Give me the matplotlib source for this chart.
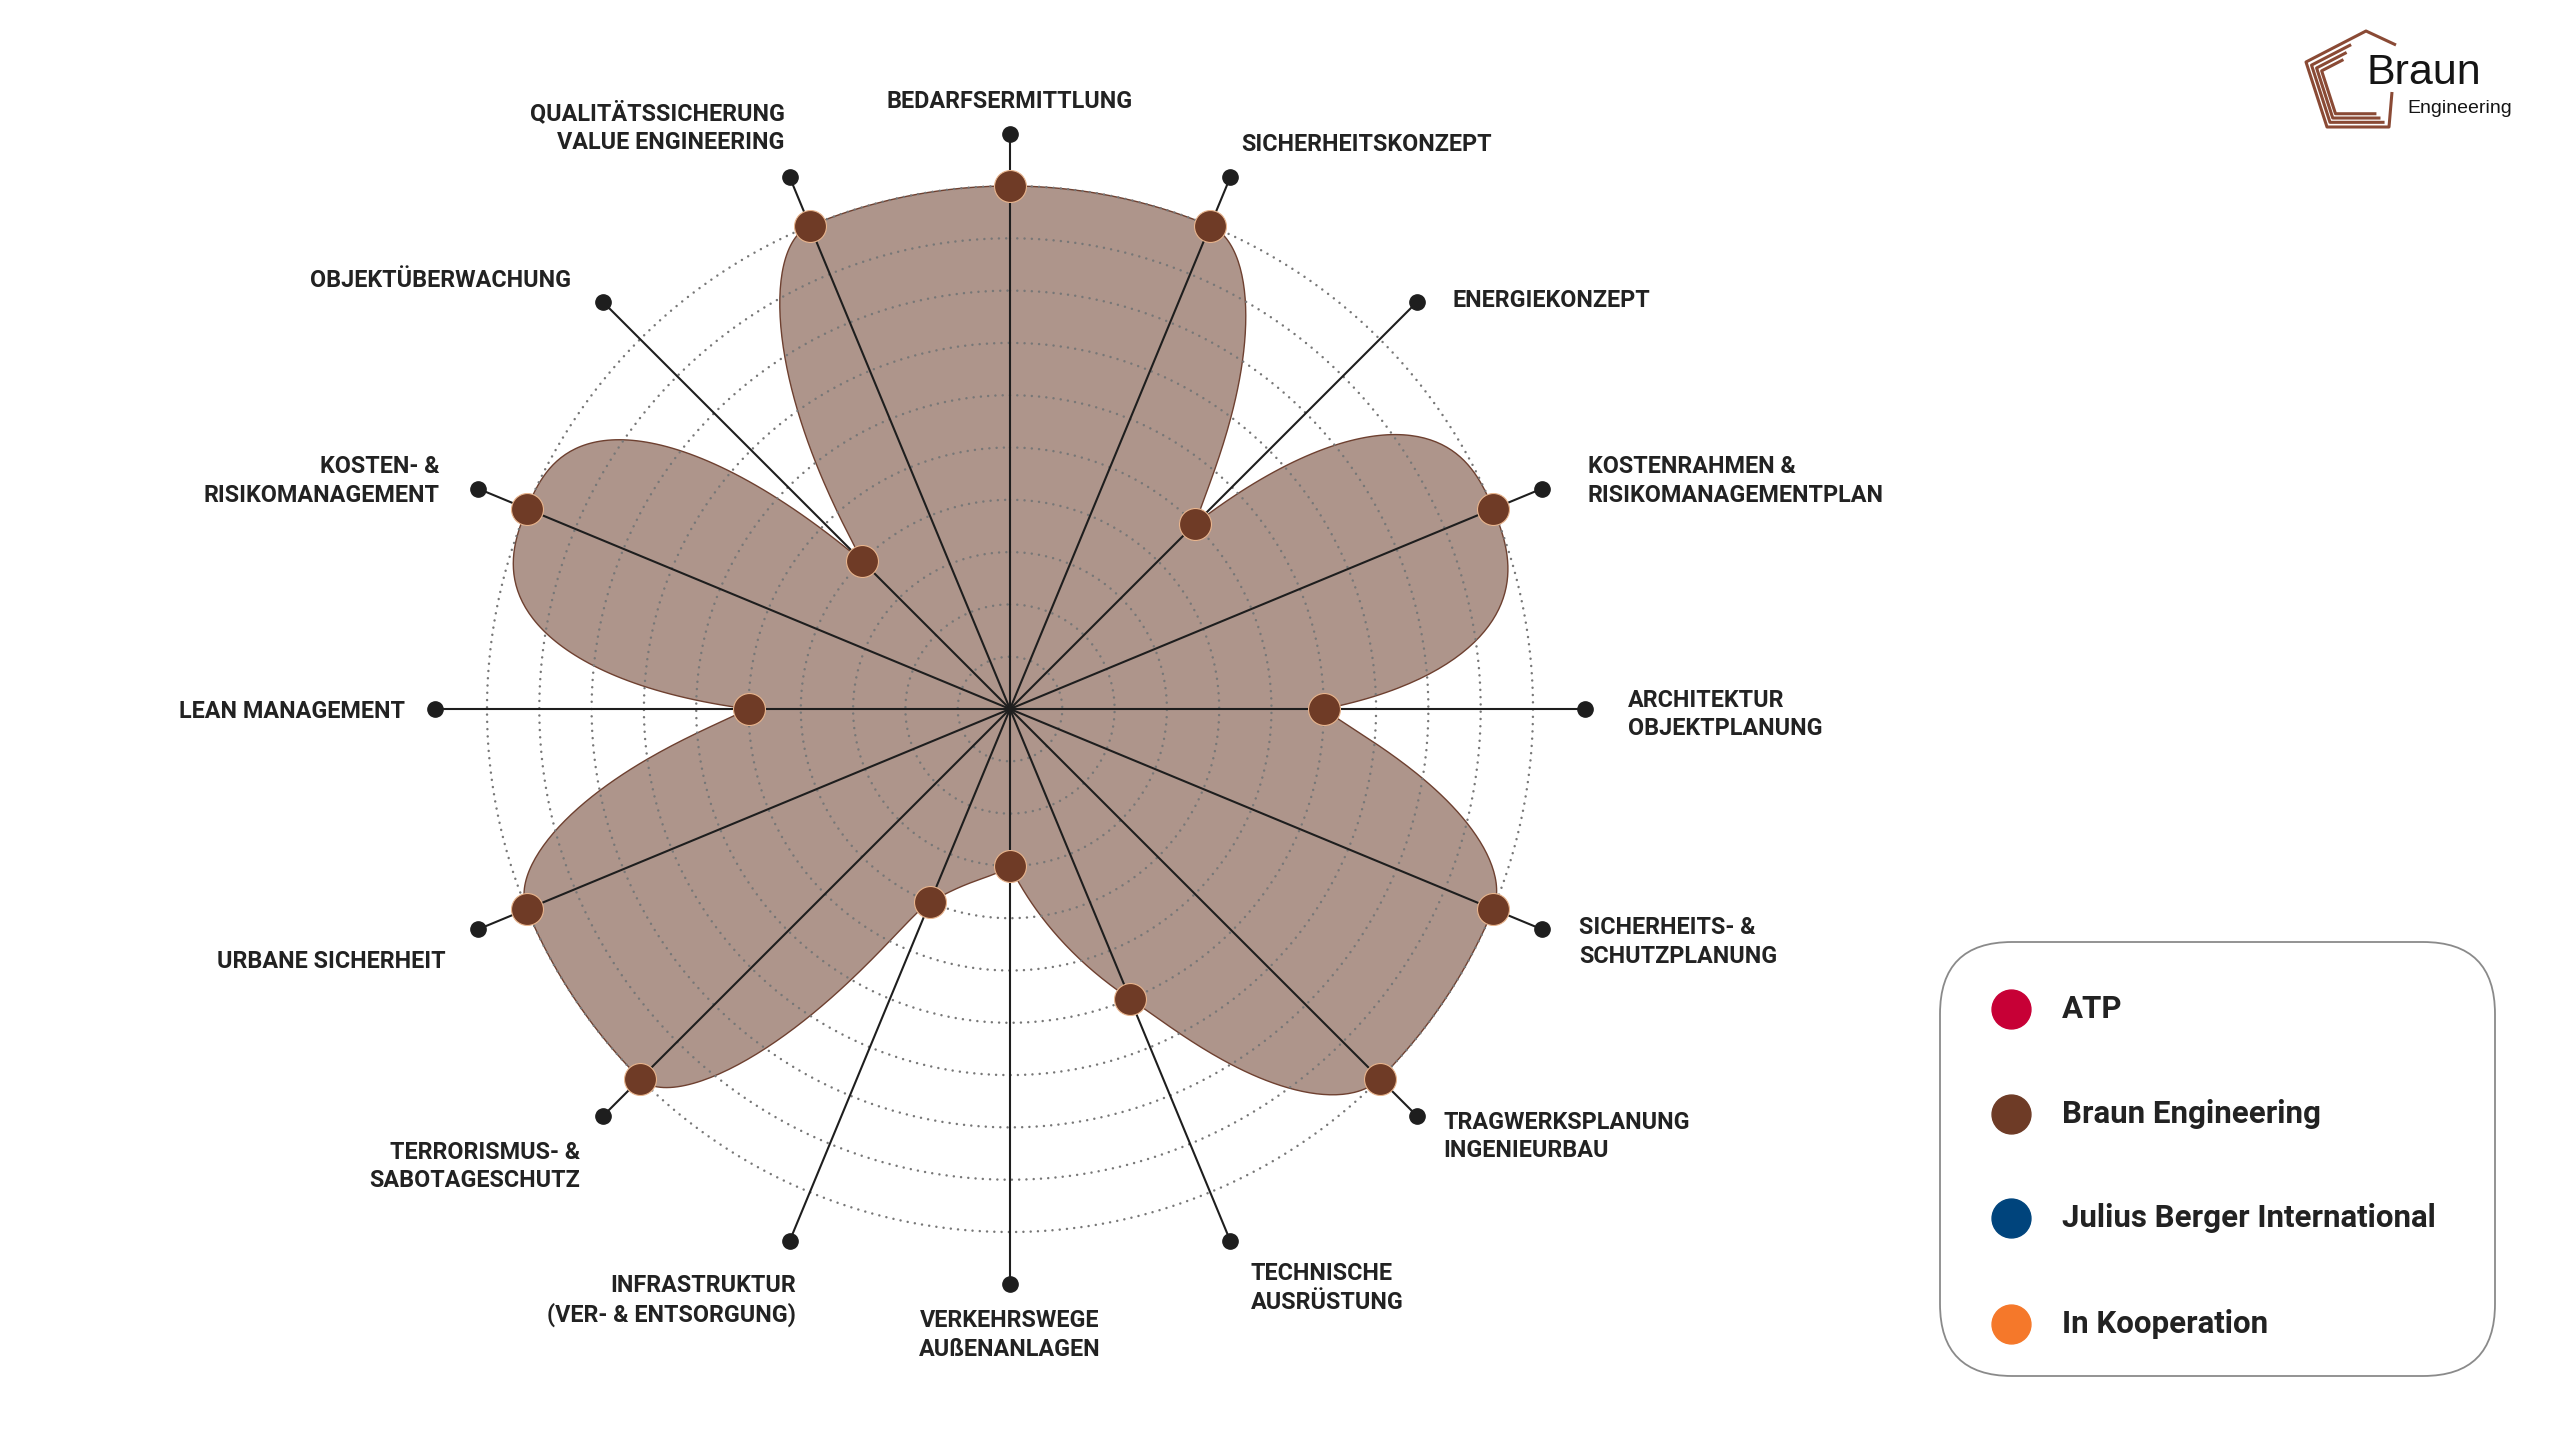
import numpy as np
import matplotlib.pyplot as plt
from matplotlib.patches import FancyBboxPatch

# Radar data (scores 0-10), clockwise from top
categories = [
    'BEDARFSERMITTLUNG', 'SICHERHEITSKONZEPT', 'ENERGIEKONZEPT',
    'KOSTENRAHMEN &\nRISIKOMANAGEMENTPLAN', 'ARCHITEKTUR\nOBJEKTPLANUNG',
    'SICHERHEITS- &\nSCHUTZPLANUNG', 'TRAGWERKSPLANUNG\nINGENIEURBAU',
    'TECHNISCHE\nAUSRÜSTUNG', 'VERKEHRSWEGE\nAUßENANLAGEN',
    'INFRASTRUKTUR\n(VER- & ENTSORGUNG)', 'TERRORISMUS- &\nSABOTAGESCHUTZ',
    'URBANE SICHERHEIT', 'LEAN MANAGEMENT', 'KOSTEN- &\nRISIKOMANAGEMENT',
    'OBJEKTÜBERWACHUNG', 'QUALITÄTSSICHERUNG\nVALUE ENGINEERING',
]
values = [10, 10, 5, 10, 6, 10, 10, 6, 3, 4, 10, 10, 5, 10, 4, 10]
ring_levels = list(range(1, 11))
axis_max = 11

legend_names = ['ATP', 'Braun Engineering', 'Julius Berger International', 'In Kooperation']
legend_colors = ['#c70036', '#6e3b26', '#00447c', '#f5782a']

# label placement: (ha, dx, dy) in screen px relative to the spoke end dot
label_layout = [
    ('center', 0, -32), ('left', 11.5, -32.6), ('left', 36, -2), ('left', 46, -7.7),
    ('left', 42.5, 5.5), ('left', 37.4, 12.8), ('left', 26.3, 20.7), ('left', 20.7, 47.5),
    ('center', 0, 50.5), ('right', 6, 59.8), ('right', -22.9, 50.9), ('right', -32.9, 32.8),
    ('right', -29.3, 2), ('right', -38.9, -7.7), ('right', -32.3, -21.6), ('right', -5.1, -50.1),
]

fill_color = '#ae958b'
edge_color = '#6e4030'
dot_color = '#6f3b26'
text_color = '#222222'

W, H = 2560, 1440
fig = plt.figure(figsize=(25.6, 14.4), dpi=100)
fig.patch.set_facecolor('white')

# polar axes placed so the centre sits at (1010, 709) px, 52.3 px per unit
cx, cy, unit = 1010, 709, 52.3
rmax = 11.6
rad = rmax * unit
ax = fig.add_axes([(cx - rad) / W, (H - cy - rad) / H, 2 * rad / W, 2 * rad / H],
                  projection='polar')
ax.set_theta_zero_location('N')
ax.set_theta_direction(-1)
ax.set_ylim(0, rmax)
ax.axis('off')

n = len(values)
angles = np.arange(n) * 2 * np.pi / n
v = np.array(values, dtype=float)
prev = np.roll(v, 1)
nxt = np.roll(v, -1)

# smoothed outline: flat at peaks, pointed at dips (Hermite in r over theta)
is_max = (v >= prev) & (v >= nxt)
is_min = (v < prev) & (v < nxt)
lone_peak = (v > prev) & (v > nxt)
cusp = np.where(lone_peak, 3.0, 0.8)

s0 = v - prev
s1 = nxt - v
steffen = (np.sign(s0) + np.sign(s1)) * np.minimum(np.minimum(np.abs(s0), np.abs(s1)),
                                                  0.25 * np.abs(s0 + s1))
m_in = steffen.copy()
m_out = steffen.copy()
m_in[is_max] = 0
m_out[is_max] = 0
for i in np.where(is_min)[0]:
    m_in[i] = cusp[(i - 1) % n] * s0[i]
    m_out[i] = cusp[(i + 1) % n] * s1[i]

t = np.linspace(0, 1, 80, endpoint=False)
h00 = 2 * t**3 - 3 * t**2 + 1
h10 = t**3 - 2 * t**2 + t
h01 = -2 * t**3 + 3 * t**2
h11 = t**3 - t**2
th_s, r_s = [], []
for i in range(n):
    j = (i + 1) % n
    r_s.append(h00 * v[i] + h10 * m_out[i] + h01 * v[j] + h11 * m_in[j])
    th_s.append((i + t) * 2 * np.pi / n)
th_s = np.concatenate(th_s + [[2 * np.pi]])
r_s = np.concatenate(r_s + [[v[0]]])

ax.fill(th_s, r_s, color=fill_color, zorder=1, lw=0)
ax.plot(th_s, r_s, color=edge_color, lw=1.0, zorder=1.5)

circ = np.linspace(0, 2 * np.pi, 400)
for lvl in ring_levels:
    ax.plot(circ, np.full_like(circ, lvl), color='#777777', lw=1.8,
            linestyle=(0, (0.01, 2.9)), dash_capstyle='round', zorder=2)

for a in angles:
    ax.plot([a, a], [0, axis_max], color='#1e1e1e', lw=1.5, zorder=3)
ax.scatter(angles, np.full(n, axis_max), s=11**2, color='#1e1e1e', zorder=4, clip_on=False)
ax.scatter(angles, v, s=23**2, color=dot_color, edgecolors='#e8b58e', linewidths=0.8,
           zorder=5, clip_on=False)

for a, lab, (ha, dx, dy) in zip(angles, categories, label_layout):
    ax.annotate(lab, xy=(a, axis_max), xytext=(dx, -dy), textcoords='offset pixels',
                ha=ha, va='center', fontsize=16.8, fontweight='bold', family='Roboto',
                color=text_color, linespacing=1.3, annotation_clip=False)

# overlay axes in pixel coordinates for legend box and logo
lax = fig.add_axes([0, 0, 1, 1])
lax.set_xlim(0, W)
lax.set_ylim(H, 0)
lax.axis('off')

box = FancyBboxPatch((1940, 942), 555, 434, boxstyle='round,pad=0,rounding_size=72',
                     facecolor='white', edgecolor='#8a8a8a', lw=1.3)
lax.add_patch(box)
row_y = [1009, 1114, 1218, 1324]
for name, col, y in zip(legend_names, legend_colors, row_y):
    lax.scatter([2011], [y], s=28**2, color=col, zorder=3)
    lax.text(2062, y, name, ha='left', va='center', fontsize=22.5, fontweight='bold',
             family='Roboto', color=text_color)

# logo
logo = np.array([(2396, 45), (2366, 31), (2306, 62), (2327, 127), (2389, 127), (2392, 92)])
lax.plot(logo[:, 0], logo[:, 1], color='#8a4a35', lw=2.2, solid_capstyle='butt')
ctr = np.array([2352, 88])
for k, f in enumerate([0.88, 0.77, 0.66]):
    pts = ctr + (logo[1:5] - ctr) * f
    pts[0] = pts[0] + (pts[1] - pts[0]) * (0.25 + 0.1 * k)
    lax.plot(pts[:, 0], pts[:, 1], color='#8a4a35', lw=2.2, solid_capstyle='butt')
lax.text(2367, 84, 'Braun', ha='left', va='baseline', fontsize=31,
         family='Liberation Sans', color='#151515')
lax.text(2407, 113, 'Engineering', ha='left', va='baseline', fontsize=14,
         family='Liberation Sans', color='#151515')

fig.savefig('out.png', dpi=100)
